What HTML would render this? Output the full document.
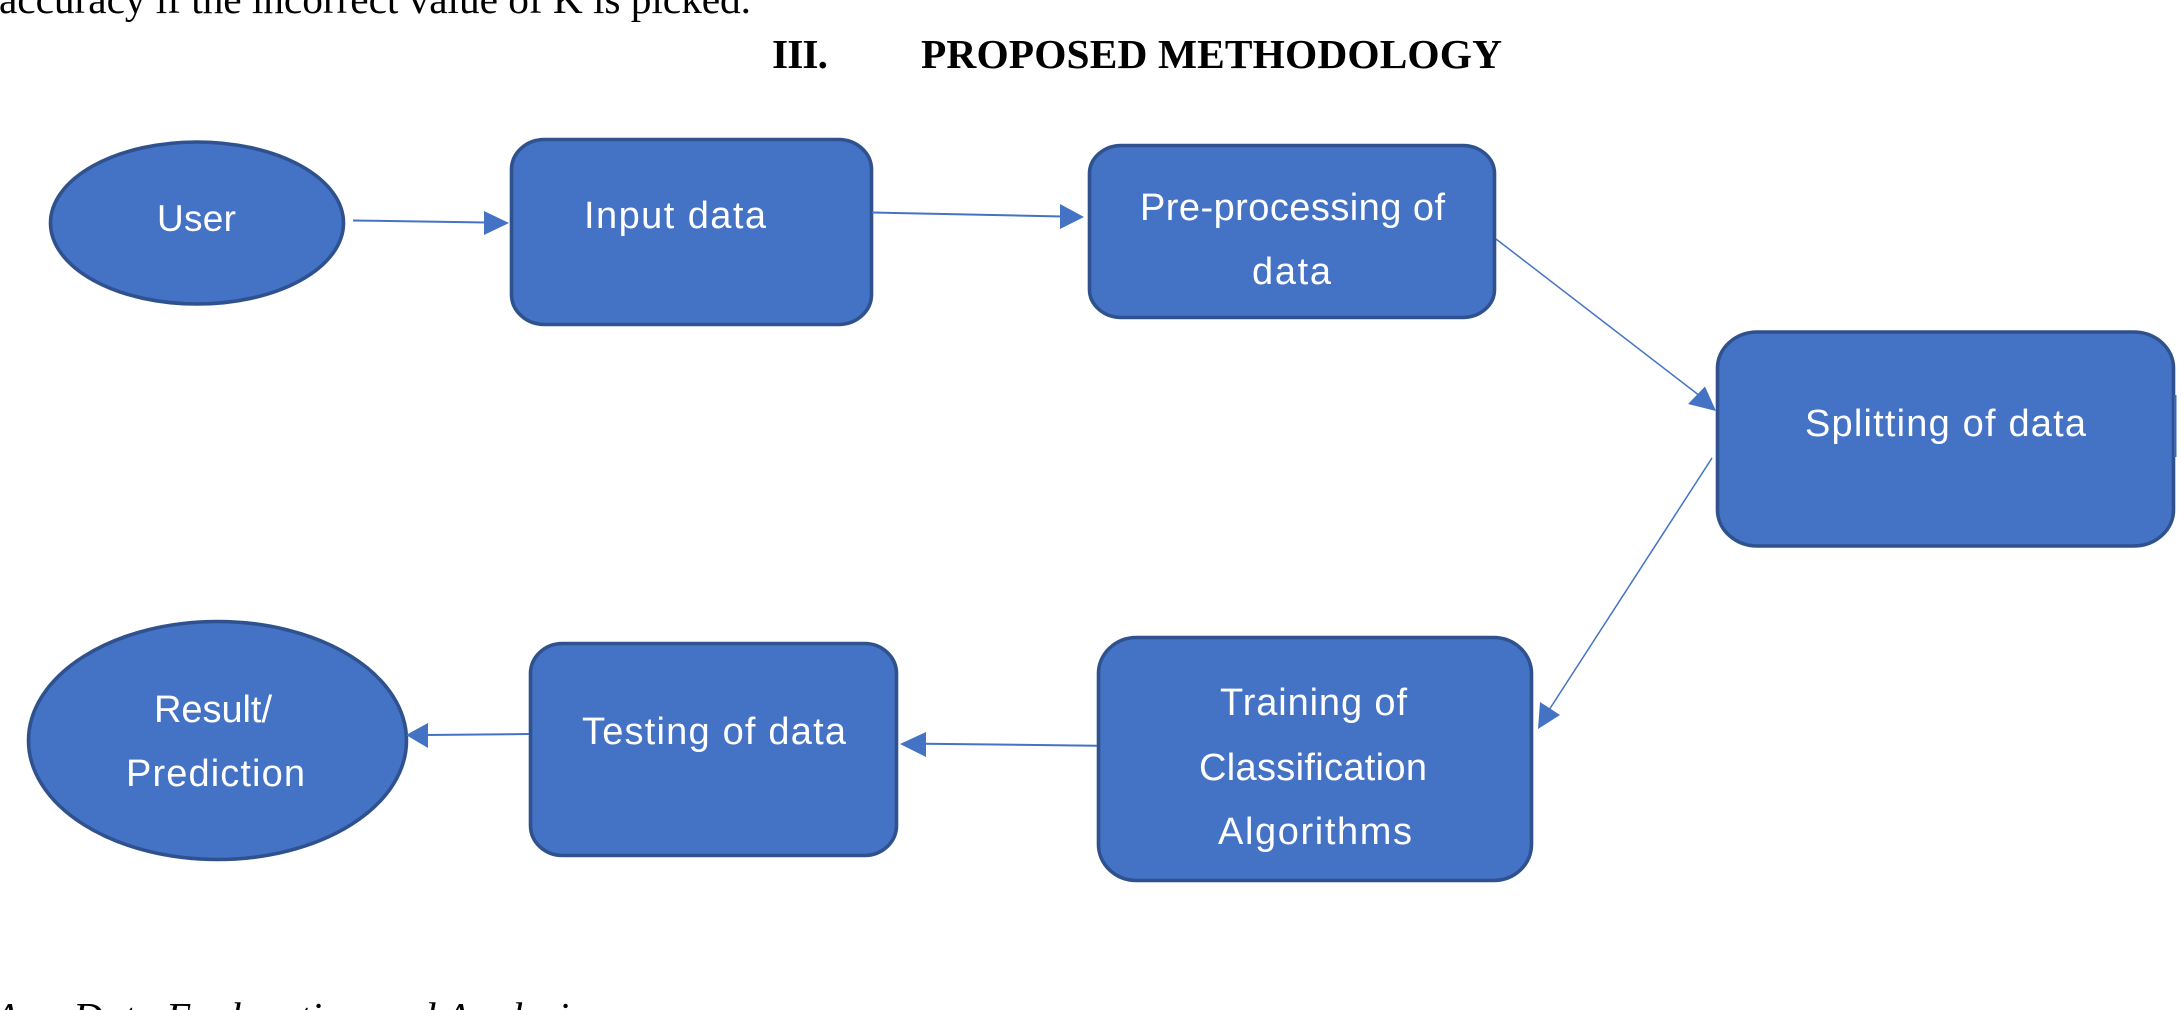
<!DOCTYPE html>
<html><head><meta charset="utf-8"><style>
html,body{margin:0;padding:0;background:#fff;width:2181px;height:1010px;overflow:hidden}
svg{display:block}
.b{fill:#4472C4;stroke:#2F528F;stroke-width:3.6}
.l{stroke:#4472C4;stroke-width:2;fill:none}
.d{stroke:#4472C4;stroke-width:1.5;fill:none}
.h{fill:#4472C4}
.t{font-family:"Liberation Sans",sans-serif;font-size:38px;fill:#fff}
.s{font-family:"Liberation Serif",serif;font-size:41.4px;fill:#000}
</style></head><body>
<svg width="2181" height="1010" viewBox="0 0 2181 1010" xmlns="http://www.w3.org/2000/svg">
<text class="s" x="-1" y="13" textLength="752" lengthAdjust="spacing">accuracy if the incorrect value of K is picked.</text>
<text class="s" x="772" y="68" font-weight="bold" textLength="56" lengthAdjust="spacing">III.</text>
<text class="s" x="921" y="68" font-weight="bold" textLength="581" lengthAdjust="spacing">PROPOSED METHODOLOGY</text>
<text class="s" x="-6" y="1031" font-style="italic">A.</text>
<text class="s" x="73" y="1031" font-style="italic" textLength="512" lengthAdjust="spacing">Data Exploration and Analysis</text>

<ellipse class="b" cx="197" cy="223" rx="146.5" ry="81"/>
<rect class="b" x="511.5" y="139.5" width="360" height="185" rx="33" ry="30"/>
<rect class="b" x="1089.5" y="145.5" width="405" height="172" rx="32" ry="28"/>
<rect class="b" x="1717.5" y="332" width="456" height="214" rx="40" ry="36"/>
<rect x="2174" y="395" width="2.5" height="62" fill="#3D68B4"/>
<rect class="b" x="1098.5" y="637.5" width="433" height="243" rx="38" ry="36"/>
<rect class="b" x="530.5" y="643.5" width="366" height="212" rx="32" ry="30"/>
<ellipse class="b" cx="217.5" cy="740.5" rx="189" ry="119"/>

<line class="l" x1="353" y1="220.5" x2="486" y2="222.5"/>
<polygon class="h" points="509,223 484,211 484,235"/>
<line class="l" x1="872" y1="212.5" x2="1062" y2="216.5"/>
<polygon class="h" points="1084,217 1060,204 1060,229"/>
<line class="d" x1="1496" y1="239" x2="1700" y2="396"/>
<polygon class="h" points="1716,411 1705,386.5 1688,404"/>
<line class="d" x1="1712" y1="458" x2="1549" y2="710"/>
<polygon class="h" points="1538,729 1540,702 1560,715"/>
<line class="l" x1="1097" y1="745.7" x2="924" y2="743.7"/>
<polygon class="h" points="900,744 926,732 926,757"/>
<line class="l" x1="529" y1="734" x2="426" y2="735"/>
<polygon class="h" points="406,735 428,723 428,748"/>

<text class="t" x="157" y="231" font-size="37" style="font-size:37px" textLength="79" lengthAdjust="spacing">User</text>
<text class="t" x="584" y="228" textLength="182" lengthAdjust="spacing">Input data</text>
<text class="t" x="1140" y="220" textLength="305" lengthAdjust="spacing">Pre-processing of</text>
<text class="t" x="1252" y="284" textLength="79" lengthAdjust="spacing">data</text>
<text class="t" x="1805" y="436" textLength="281" lengthAdjust="spacing">Splitting of data</text>
<text class="t" x="1220" y="715" textLength="187" lengthAdjust="spacing">Training of</text>
<text class="t" x="1199" y="780" textLength="228" lengthAdjust="spacing">Classification</text>
<text class="t" x="1218" y="844" textLength="194" lengthAdjust="spacing">Algorithms</text>
<text class="t" x="582" y="744" textLength="264" lengthAdjust="spacing">Testing of data</text>
<text class="t" x="154" y="722" textLength="118" lengthAdjust="spacing">Result/</text>
<text class="t" x="126" y="786" textLength="179" lengthAdjust="spacing">Prediction</text>
</svg>
</body></html>
